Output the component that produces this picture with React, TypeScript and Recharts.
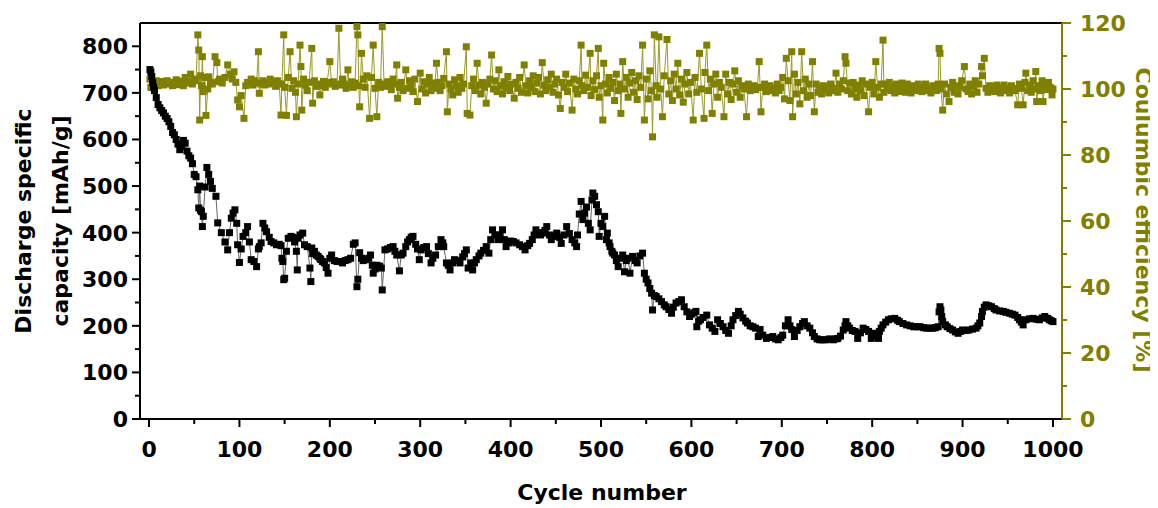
import React from "react";
import { LineChart, Line, XAxis, YAxis, ReferenceLine, Label } from "recharts";

// Discharge specific capacity [mAh/g] vs cycle number: [cycle, value]
const capacityPoints: [number, number][] = [
  [1,750],[2,745],[3,735],[4,722],[5,712],[6,705],[8,690],[10,675],[12,668],[14,662],[16,657],[18,650],[20,645],[22,638],[24,628],[26,615],[28,610],[30,600],[32,590],[34,578],[36,585],[38,598],[40,592],[42,575],[44,565],[46,560],[48,548],[50,525],[52,520],[54,492],[55,453],[56,500],[57,448],[58,445],[59,413],[60,435],[62,498],[64,540],[66,525],[68,510],[70,495],[74,478],[76,421],[80,400],[84,380],[87,363],[89,400],[91,431],[93,442],[95,449],[97,420],[98,374],[100,336],[102,365],[104,392],[107,400],[109,413],[111,380],[113,342],[116,338],[119,327],[121,365],[122,370],[124,378],[126,420],[128,410],[130,402],[133,390],[135,381],[138,378],[141,374],[144,375],[146,372],[147,345],[148,338],[149,299],[150,302],[152,360],[154,388],[157,392],[159,390],[161,380],[163,360],[164,320],[165,388],[167,395],[170,399],[172,374],[175,370],[178,324],[179,295],[180,367],[181,355],[183,360],[185,352],[187,349],[189,345],[190,342],[192,338],[194,335],[196,325],[198,313],[200,345],[202,352],[205,340],[208,338],[211,338],[214,335],[217,340],[220,342],[223,345],[226,375],[228,378],[230,284],[231,300],[233,357],[235,345],[237,340],[240,342],[243,345],[245,352],[247,330],[248,313],[250,322],[252,330],[255,328],[257,324],[258,277],[261,363],[264,365],[267,368],[270,370],[272,360],[274,352],[277,318],[279,352],[281,356],[284,370],[286,380],[288,385],[290,390],[292,392],[295,375],[297,365],[299,342],[301,363],[304,368],[307,370],[309,355],[312,335],[314,345],[317,352],[320,370],[323,385],[325,378],[326,370],[329,335],[331,330],[333,320],[336,335],[338,342],[341,340],[344,335],[347,348],[349,355],[351,363],[353,324],[356,335],[358,320],[360,335],[362,342],[365,350],[367,356],[370,362],[373,370],[376,356],[378,385],[380,406],[383,395],[386,385],[388,395],[391,406],[393,385],[395,370],[398,378],[400,382],[403,381],[406,378],[410,374],[413,370],[416,363],[419,372],[421,377],[424,385],[426,395],[428,406],[431,400],[433,395],[436,399],[438,405],[440,413],[443,395],[445,385],[448,392],[451,399],[454,390],[456,377],[459,395],[462,413],[465,398],[468,385],[471,378],[473,370],[474,395],[476,440],[478,467],[480,428],[482,442],[484,455],[486,420],[488,406],[490,470],[491,485],[493,478],[495,460],[497,445],[498,392],[500,420],[502,413],[504,435],[506,385],[507,399],[509,378],[510,370],[512,360],[513,356],[515,352],[517,340],[519,327],[521,345],[524,352],[526,316],[528,340],[530,345],[532,313],[535,349],[538,340],[540,335],[543,350],[546,356],[548,313],[550,300],[552,292],[554,280],[556,270],[557,234],[559,265],[561,263],[564,258],[567,252],[570,245],[572,241],[575,235],[578,227],[580,240],[583,249],[586,252],[589,256],[592,241],[595,230],[598,220],[600,225],[603,228],[605,231],[606,198],[608,210],[610,213],[613,218],[617,223],[620,202],[623,195],[626,188],[629,213],[632,205],[635,198],[638,190],[641,184],[644,200],[646,213],[649,222],[652,231],[654,225],[657,217],[660,210],[662,206],[665,200],[668,198],[671,195],[674,177],[676,192],[679,180],[683,173],[686,175],[690,177],[693,172],[696,170],[699,175],[701,180],[704,200],[707,213],[709,200],[711,192],[714,177],[717,190],[720,198],[723,205],[725,209],[728,200],[731,195],[734,185],[736,177],[739,172],[742,170],[745,170],[749,170],[753,172],[757,170],[760,172],[762,173],[765,178],[768,191],[770,200],[771,209],[773,200],[775,195],[778,190],[781,188],[784,173],[787,185],[790,195],[793,192],[796,188],[799,173],[801,180],[803,184],[805,178],[807,173],[808,188],[810,195],[812,202],[815,208],[818,213],[821,215],[825,216],[828,212],[830,209],[834,205],[838,202],[842,200],[846,198],[850,198],[853,198],[857,196],[860,195],[864,195],[867,195],[870,196],[873,198],[874,230],[875,241],[876,234],[877,220],[878,209],[881,202],[883,198],[886,194],[889,191],[892,187],[895,184],[898,188],[900,191],[904,190],[907,191],[911,193],[915,195],[917,200],[919,206],[921,220],[922,231],[924,240],[926,245],[929,243],[932,241],[935,237],[937,234],[941,232],[945,231],[948,229],[952,227],[955,225],[958,223],[961,218],[963,213],[965,208],[967,202],[970,213],[974,215],[978,216],[982,214],[985,213],[988,217],[991,220],[994,216],[996,213],[998,211],[1000,209]
];

// Coulumbic efficiency [%] vs cycle number: [cycle, value]
const efficiencyPoints: [number, number][] = [
  [1,103],[2,100.5],[4,102],[6,101.5],[8,102.5],[10,101],[12,101.8],[14,102.3],[16,101.2],[18,101.8],[20,102.5],[22,101.5],[24,102],[26,101],[28,101.6],[30,102.8],[32,101.3],[34,101.9],[36,102.4],[38,101],[40,103.5],[42,101.8],[44,102.2],[46,104.5],[48,101.5],[50,103],[52,102.5],[54,116.4],[55,111.8],[56,90.6],[57,104],[58,101],[59,109.8],[60,99.2],[62,103.5],[63,92],[65,100],[66,103.7],[68,102],[70,101.5],[73,109.8],[75,108],[76,102.2],[78,103],[81,101.8],[84,103.5],[87,107.3],[90,104.5],[92,103],[94,105.2],[96,102],[98,96.7],[100,94.6],[102,98],[105,91.1],[107,101],[109,102],[111,101.5],[113,103],[115,101.2],[117,102.5],[119,101.8],[121,111.3],[122,98.7],[124,101.5],[126,102.5],[128,101.2],[130,102],[132,101.5],[134,103],[136,101.8],[138,102.2],[140,100.8],[142,102.5],[144,101.6],[146,92.1],[147,101.5],[149,116.4],[150,100.5],[152,92],[154,103.5],[156,111.3],[158,100.2],[160,102.5],[162,99],[163,91.6],[165,101.5],[167,113.3],[168,106.8],[169,93.6],[171,103],[173,101.2],[175,99.5],[177,102],[180,112.3],[181,95.7],[183,102.5],[185,100.8],[187,101.5],[189,98.2],[191,101],[193,102.3],[195,100.5],[197,102],[200,108.3],[202,101.5],[204,102.2],[206,100.8],[208,101.5],[210,118.4],[212,101.2],[214,103],[216,101.5],[218,100.2],[220,105.8],[222,101],[224,102.2],[226,100.5],[228,101.8],[230,118.9],[231,116.4],[232,101],[233,94.6],[235,110.8],[237,103],[239,100.5],[241,104],[244,91.1],[246,103.5],[248,113.3],[250,100.2],[252,91.6],[254,102],[256,100.5],[258,118.9],[260,101.5],[262,100.8],[264,102.2],[266,101],[268,99.8],[270,103],[272,101.5],[274,107.3],[275,97.2],[277,100.5],[279,102],[281,99.5],[284,105.8],[286,100.2],[288,102.5],[290,101],[292,99.2],[294,103],[297,96.2],[300,104.8],[302,100],[304,102.2],[306,98.8],[308,101.5],[310,103.5],[312,99.5],[314,101.8],[316,100.2],[318,107.8],[320,102],[322,99.5],[324,101],[326,103.2],[329,111.3],[330,93.1],[332,101.5],[334,100],[336,98.2],[338,102.8],[340,101],[342,99],[344,103.5],[346,100.2],[348,101.5],[351,112.8],[352,92.6],[355,92.1],[357,101],[359,103],[361,99.5],[363,107.8],[365,101.2],[367,98.5],[369,102],[371,100.5],[373,95.7],[375,101.5],[377,103],[379,110.3],[381,100],[383,102.5],[385,99.2],[387,105.8],[389,101],[391,98.5],[393,102.2],[395,100.5],[397,103.8],[399,99.5],[401,101.5],[404,97.2],[406,102],[408,100.2],[410,103.5],[412,99],[415,107.3],[417,101],[419,98.8],[421,102.5],[423,100.5],[425,104],[427,99.2],[429,101.8],[431,103.5],[433,98.5],[435,108],[437,101.2],[439,99.5],[441,102.8],[443,100.5],[445,104.5],[447,99],[449,101.5],[451,103],[453,98.2],[455,94.1],[457,102],[459,100.5],[461,104.5],[463,99.2],[465,101.8],[468,93.6],[470,103],[472,100],[474,98.5],[476,102.5],[478,113.3],[479,101],[481,99.5],[483,104.2],[485,100.5],[488,110.8],[489,98],[491,102.5],[493,99.8],[495,104],[497,112.3],[498,97.5],[500,101],[502,90.6],[503,107.8],[505,101.5],[507,98.8],[509,103.5],[511,100.2],[513,102],[515,96.5],[517,104.5],[519,99.5],[521,101.5],[522,92.6],[524,108.3],[526,100],[528,103.5],[530,97.5],[532,101.8],[534,105],[536,99],[538,102.5],[540,96.8],[542,104],[544,100.5],[546,113.3],[548,90.6],[550,103],[552,97],[554,105.5],[556,99.5],[557,85.5],[559,116.4],[561,101],[562,97.5],[564,115.8],[566,100],[568,91.6],[570,104],[573,115],[575,98.5],[577,102.5],[579,96.5],[581,104.5],[583,100],[585,107.8],[587,98.2],[589,103],[591,96],[593,101.5],[595,105],[597,98.5],[599,102],[602,90.6],[604,103.5],[606,99],[609,110.8],[611,100],[614,91.1],[615,105],[617,113.3],[619,99.5],[621,103],[623,92.6],[625,101.5],[627,104.5],[629,97.5],[631,102],[633,100.5],[636,91.6],[638,104.5],[640,98.5],[642,102],[644,96.8],[646,101.5],[648,105.5],[650,99],[652,102.5],[654,97.5],[656,101],[658,100],[661,91.6],[663,101.5],[665,99.5],[667,100.5],[669,101],[671,99.8],[673,100.5],[675,108.3],[677,93.1],[679,100.5],[681,101.5],[683,99.2],[685,100.5],[687,101],[689,99.5],[691,100.2],[693,98.8],[695,101.5],[697,99.5],[699,100.5],[701,103.5],[703,97],[705,109.3],[707,102.5],[709,96.5],[711,111.3],[712,91.6],[714,104.5],[716,98.5],[718,102],[720,95.5],[722,111.3],[724,99.5],[726,103],[728,97.5],[730,101.5],[732,98],[734,108.3],[736,93.1],[738,101.5],[740,99],[742,100.5],[744,98.5],[746,101],[748,99.5],[750,100.5],[752,98.8],[754,101.5],[756,99.5],[758,100.2],[760,104.8],[762,99],[764,101.5],[766,100],[768,102.5],[770,109.8],[771,107.8],[773,99.5],[775,101.8],[777,98.5],[779,102],[781,100],[783,97.5],[785,101.2],[787,99.5],[789,102.5],[791,98],[793,101.5],[796,93.1],[798,100.5],[800,102],[802,98.5],[804,108.3],[806,100.5],[808,97.5],[810,101.5],[812,114.8],[813,99],[815,101.5],[817,100],[819,102],[821,99.5],[823,100.8],[825,98.8],[827,101.5],[829,100],[831,99.2],[833,101.8],[835,100.5],[837,99],[839,101.5],[841,100.2],[843,98.8],[845,101],[847,100],[849,99.5],[851,101.5],[853,100.2],[855,99.2],[857,100.8],[859,101.5],[861,99.5],[863,100.2],[865,98.8],[867,101],[869,100.2],[871,99.5],[873,101.5],[874,112.3],[875,110.8],[876,100],[878,93.6],[880,101.5],[882,98.5],[885,96.2],[887,100.5],[889,102],[891,99],[893,101],[895,98.5],[897,100.5],[899,102.5],[902,106.8],[904,100],[906,99.2],[908,101.5],[910,98.5],[912,100.8],[914,102.5],[916,99],[918,101.5],[921,106.8],[922,104],[924,109.3],[926,100.2],[928,99],[930,101],[932,99.5],[934,100.8],[936,99.2],[938,101.2],[940,100],[942,98.8],[944,100.5],[946,101.2],[948,99.5],[950,100.2],[952,98.8],[954,101],[956,100.2],[958,99.5],[961,95.2],[963,101.5],[965,100.2],[967,95.2],[969,102],[970,104.8],[972,99.5],[974,101.2],[976,99],[978,102.5],[979,100],[981,105.3],[982,96.2],[984,101],[986,99.5],[988,102.5],[989,96.2],[991,101.5],[993,99.8],[995,102],[997,100.5],[999,98.2],[1000,100]
];

const xTicks = [0,50,100,150,200,250,300,350,400,450,500,550,600,650,700,750,800,850,900,950,1000];
const leftTicks = [0,50,100,150,200,250,300,350,400,450,500,550,600,650,700,750,800];
const rightTicks = [0,10,20,30,40,50,60,70,80,90,100,110,120];

const OLIVE = "#808000";
const FONT = "'DejaVu Sans', sans-serif";

const capacityData = capacityPoints.map(([cycle, value]) => ({ cycle, value }));
const efficiencyData = efficiencyPoints.map(([cycle, value]) => ({ cycle, value }));

const XTick = (props: any) => {
  const { x, y, payload } = props;
  const major = payload.value % 100 === 0;
  return (
    <g>
      <line x1={x} x2={x} y1={y} y2={y + (major ? 8 : 5)} stroke="#000" strokeWidth={2} />
      {major && (
        <text x={x} y={y + 38} textAnchor="middle" fontFamily={FONT} fontWeight="bold" fontSize={22} fill="#000">
          {payload.value}
        </text>
      )}
    </g>
  );
};

const LeftTick = (props: any) => {
  const { x, y, payload } = props;
  const major = payload.value % 100 === 0;
  return (
    <g>
      <line x1={x} x2={x - (major ? 8 : 5)} y1={y} y2={y} stroke="#000" strokeWidth={2} />
      {major && (
        <text x={x - 12} y={y} dy="0.36em" textAnchor="end" fontFamily={FONT} fontWeight="bold" fontSize={22} fill="#000">
          {payload.value}
        </text>
      )}
    </g>
  );
};

const RightTick = (props: any) => {
  const { x, y, payload } = props;
  const major = payload.value % 20 === 0;
  return (
    <g>
      <line x1={x} x2={x + (major ? 9 : 5)} y1={y} y2={y} stroke={OLIVE} strokeWidth={2} />
      {major && (
        <text x={x + 18} y={y} dy="0.36em" textAnchor="start" fontFamily={FONT} fontWeight="bold" fontSize={22} fill={OLIVE}>
          {payload.value}
        </text>
      )}
    </g>
  );
};

const blackDot = (props: any) => {
  const { cx, cy, index } = props;
  return <rect key={`b${index}`} x={cx - 3.5} y={cy - 3.5} width={7} height={7} fill="#000" />;
};

const oliveDot = (props: any) => {
  const { cx, cy, index } = props;
  return <rect key={`o${index}`} x={cx - 3.5} y={cy - 3.5} width={7} height={7} fill={OLIVE} />;
};

const LeftTitle = () => (
  <g fontFamily={FONT} fontWeight="bold" fontSize={22} fill="#000">
    <text transform="translate(15,213) rotate(-90)" textAnchor="middle" dominantBaseline="central">Discharge specific</text>
    <text transform="translate(52,213) rotate(-90)" textAnchor="middle" dominantBaseline="central">capacity [mAh/g]</text>
  </g>
);

const RightTitle = () => (
  <text transform="translate(1135,212) rotate(90)" textAnchor="middle" dominantBaseline="central" fontFamily={FONT} fontWeight="bold" fontSize={22} fill={OLIVE}>
    Coulumbic efficiency [%]
  </text>
);

const BottomTitle = () => (
  <text x={594} y={492} textAnchor="middle" fontFamily={FONT} fontWeight="bold" fontSize={22} fill="#000">
    Cycle number
  </text>
);

export default function App() {
  return (
    <div style={{ width: 1150, height: 500 }}>
      <LineChart width={1150} height={500} margin={{ top: 15, right: 0, bottom: 0, left: 0 }}>
        <XAxis
          type="number"
          dataKey="cycle"
          domain={[-10, 1010]}
          ticks={xTicks}
          interval={0}
          height={89}
          tickSize={0}
          tickMargin={0}
          tickLine={false}
          tick={<XTick />}
          axisLine={{ stroke: "#000", strokeWidth: 2 }}
          allowDataOverflow
        >
          <Label content={<BottomTitle />} />
        </XAxis>
        <YAxis
          yAxisId="left"
          orientation="left"
          type="number"
          dataKey="value"
          domain={[0, 850]}
          ticks={leftTicks}
          interval={0}
          width={132}
          tickSize={0}
          tickMargin={0}
          tickLine={false}
          tick={<LeftTick />}
          axisLine={{ stroke: "#000", strokeWidth: 2 }}
          allowDataOverflow
        >
          <Label content={<LeftTitle />} />
        </YAxis>
        <YAxis
          yAxisId="right"
          orientation="right"
          type="number"
          dataKey="value"
          domain={[0, 120]}
          ticks={rightTicks}
          interval={0}
          width={96}
          tickSize={0}
          tickMargin={0}
          tickLine={false}
          tick={<RightTick />}
          axisLine={{ stroke: OLIVE, strokeWidth: 2 }}
          allowDataOverflow
        >
          <Label content={<RightTitle />} />
        </YAxis>
        <ReferenceLine yAxisId="left" y={850} stroke="#000" strokeWidth={2} />
        <Line
          yAxisId="right"
          data={efficiencyData}
          dataKey="value"
          type="linear"
          stroke="#9a9a2a"
          strokeWidth={1}
          dot={oliveDot}
          activeDot={false}
          isAnimationActive={false}
        />
        <Line
          yAxisId="left"
          data={capacityData}
          dataKey="value"
          type="linear"
          stroke="#666"
          strokeWidth={1}
          dot={blackDot}
          activeDot={false}
          isAnimationActive={false}
        />
      </LineChart>
    </div>
  );
}
